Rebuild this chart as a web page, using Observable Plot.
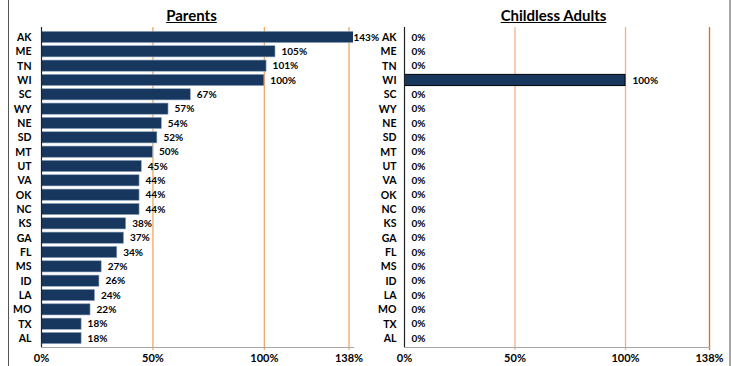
<!DOCTYPE html>
<html>
<head>
<meta charset="utf-8">
<script src="https://cdn.jsdelivr.net/npm/d3@7"></script>
<script src="https://cdn.jsdelivr.net/npm/@observablehq/plot@0.6"></script>
<style>
  html, body { margin: 0; padding: 0; background: #fff; }
  #wrap { position: relative; width: 731px; height: 366px; overflow: hidden; font-family: Lato, "Open Sans", sans-serif; }
  .panel { position: absolute; top: 0; }
  .title { position: absolute; top: 7px; font-weight: bold; font-size: 15px; line-height: 16px; text-decoration: underline; transform: translateX(-50%); white-space: nowrap; color: #000; }
  .border-l { position: absolute; left: 8px; top: 0; width: 1px; height: 366px; background: #555; }
  .border-r { position: absolute; left: 729px; top: 0; width: 2px; height: 366px; background: #a6a6a6; }
</style>
</head>
<body>
<div id="wrap">
  <div class="border-l"></div>
  <div class="border-r"></div>
  <div class="panel" id="left" style="left:0px"></div>
  <div class="panel" id="right" style="left:365px"></div>
  <div class="title" style="left:191.5px">Parents</div>
  <div class="title" style="left:553.5px">Childless Adults</div>
</div>
<script>
const states = ["AK","ME","TN","WI","SC","WY","NE","SD","MT","UT","VA","OK","NC","KS","GA","FL","MS","ID","LA","MO","TX","AL"];
const parentsValues = [143,105,101,100,67,57,54,52,50,45,44,44,44,38,37,34,27,26,24,22,18,18];
const childlessValues = [0,0,0,100,0,0,0,0,0,0,0,0,0,0,0,0,0,0,0,0,0,0];
const tickValues = [0,50,100,138];
const tickLabels = ["0%","50%","100%","138%"];

const parentsData = states.map((s, i) => ({state: s, value: parentsValues[i]}));
const childlessData = states.map((s, i) => ({state: s, value: childlessValues[i]}));
const fmtTick = d => tickLabels[tickValues.indexOf(d)];

const baseStyle = {fontFamily: "Lato, 'Open Sans', sans-serif", fontSize: "10px", fontWeight: "bold", color: "#000", background: "transparent", overflow: "visible"};

function panel({data, width, marginLeft, marginRight, xMax, labelCap, gridColors, barStroke, barStrokeWidth, yPad, dx}) {
  return Plot.plot({
    width, height: 366,
    marginLeft, marginRight, marginTop: 28, marginBottom: 19,
    style: baseStyle,
    x: {domain: [0, xMax], label: null},
    y: {domain: states, paddingInner: 0.22, paddingOuter: 0.235, round: false, label: null},
    marks: [
      Plot.ruleX(tickValues.filter(v => v > 0), {stroke: (d, i) => gridColors[i], strokeWidth: 1.3, insetTop: -1, insetBottom: -3}),
      Plot.frame({anchor: "bottom", stroke: "#a6a6a6"}),
      Plot.barX(data.filter(d => d.value > 0), {x: "value", y: "state", fill: "#17375E", stroke: barStroke, strokeWidth: barStrokeWidth, clip: true}),
      Plot.ruleX([0], {stroke: "#222", strokeWidth: 1.2, insetTop: -1}),
      Plot.text(data, {x: d => Math.min(d.value, labelCap), y: "state", text: d => d.value + "%", textAnchor: "start", dx, fill: "#000", fontSize: 10, fontWeight: "bold"}),
      Plot.axisY({tickSize: 0, tickPadding: yPad, fontWeight: "bold", fontSize: 10.5}),
      Plot.axisX({ticks: tickValues, tickFormat: fmtTick, tickSize: 0, tickPadding: 7, fontWeight: "bold", fontSize: 11})
    ]
  });
}

document.getElementById("left").append(panel({
  data: parentsData, width: 365, marginLeft: 41, marginRight: 12, xMax: 140, labelCap: 137.3,
  gridColors: ["#F0A865", "#F0A865", "#F0A865"], barStroke: "#8DA3BE", barStrokeWidth: 0.6, yPad: 10, dx: 6
}));
document.getElementById("right").append(panel({
  data: childlessData, width: 366, marginLeft: 39, marginRight: 22, xMax: 138, labelCap: 138,
  gridColors: ["#F4B183", "#F4B183", "#E46C0A"], barStroke: "#000", barStrokeWidth: 1, yPad: 8, dx: 7
}));
</script>
</body>
</html>
